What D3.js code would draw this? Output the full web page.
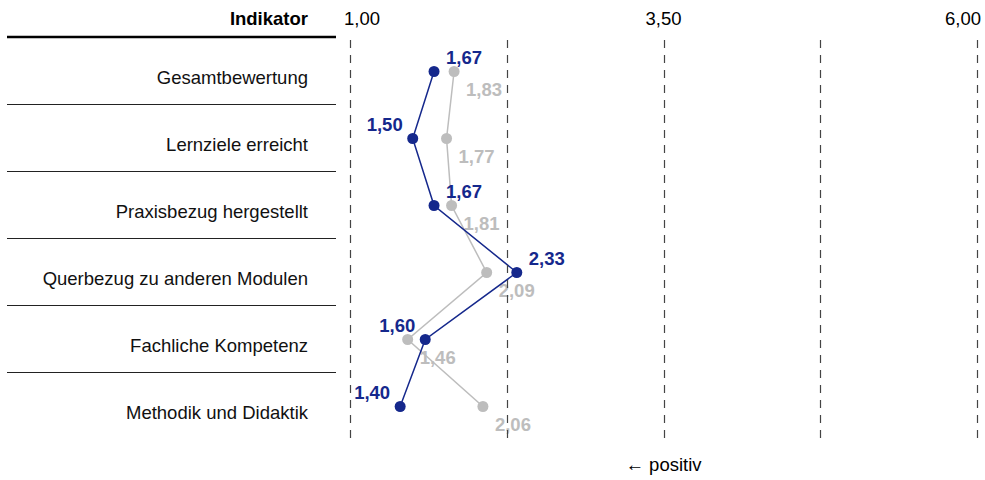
<!DOCTYPE html>
<html lang="de">

<head>
    <meta charset="UTF-8">
    <title>Indikatoren</title>
    <script src="https://d3js.org/d3.v7.min.js"></script>
    <style>
        body { margin: 0; background: #fff; }
        svg { display: block; font-family: "Liberation Sans", Arial, sans-serif; }
    </style>
</head>

<body>
    <svg></svg>
    <script>

        const indicators = [
            "Gesamtbewertung",
            "Lernziele erreicht",
            "Praxisbezug hergestellt",
            "Querbezug zu anderen Modulen",
            "Fachliche Kompetenz",
            "Methodik und Didaktik"
        ];
        const current = [1.67, 1.50, 1.67, 2.33, 1.60, 1.40];
        const reference = [1.83, 1.77, 1.81, 2.09, 1.46, 2.06];
        // which side the blue value label sits on
        const currentLabelSide = ["right", "left", "right", "right", "left", "left"];
        const gridValues = [1, 2.25, 3.5, 4.75, 6];
        const tickValues = [1, 3.5, 6];

        const width = 985, height = 480;
        const blue = "#15288c", grey = "#bdbdbd";
        const fs = "18.5px";
        const fmt = v => d3.format(".2f")(v).replace(".", ",");

        const svg = d3.select("svg")
            .attr("width", width)
            .attr("height", height);

        const x = d3.scaleLinear().domain([1, 6]).range([350, 977]);
        const y = d3.scaleBand().domain(indicators).range([38, 440]);
        const cy = d => y(d) + y.bandwidth() / 2;

        // header
        svg.append("text")
            .attr("x", 308).attr("y", 25)
            .attr("text-anchor", "end")
            .style("font-size", fs).style("font-weight", "bold")
            .text("Indikator");

        svg.append("g")
            .selectAll("text")
            .data(tickValues)
            .join("text")
            .attr("x", (d, i) => x(d) + (i === 0 ? -6 : i === tickValues.length - 1 ? 4 : 0))
            .attr("y", 25)
            .attr("text-anchor", (d, i) => i === 0 ? "start" : i === tickValues.length - 1 ? "end" : "middle")
            .style("font-size", fs)
            .text(fmt);

        // row separators + labels
        svg.append("line")
            .attr("x1", 7).attr("x2", 336)
            .attr("y1", 37).attr("y2", 37)
            .attr("stroke", "#000").attr("stroke-width", 2.5);

        svg.append("g")
            .selectAll("line")
            .data(indicators.slice(1))
            .join("line")
            .attr("x1", 7).attr("x2", 336)
            .attr("y1", d => Math.round(y(d)) - 0.5)
            .attr("y2", d => Math.round(y(d)) - 0.5)
            .attr("stroke", "#222").attr("stroke-width", 1);

        svg.append("g")
            .selectAll("text")
            .data(indicators)
            .join("text")
            .attr("x", 308)
            .attr("y", d => cy(d) + 12)
            .attr("text-anchor", "end")
            .style("font-size", fs)
            .attr("fill", "#111")
            .text(d => d);

        // series
        const line = d3.line()
            .x(d => x(d.v))
            .y(d => cy(d.k));

        const series = [
            { name: "reference", values: reference, color: grey },
            { name: "current", values: current, color: blue }
        ];

        series.forEach(s => {
            const pts = s.values.map((v, i) => ({ v: v, k: indicators[i], i: i }));
            const g = svg.append("g");

            g.append("path")
                .datum(pts)
                .attr("d", line)
                .attr("fill", "none")
                .attr("stroke", s.color)
                .attr("stroke-width", 1.5);

            g.selectAll("circle")
                .data(pts)
                .join("circle")
                .attr("cx", d => x(d.v))
                .attr("cy", d => cy(d.k))
                .attr("r", 5.5)
                .attr("fill", s.color);

            g.selectAll("text")
                .data(pts)
                .join("text")
                .style("font-size", fs)
                .style("font-weight", "bold")
                .attr("fill", s.color)
                .attr("x", d => {
                    if (s.name === "reference") return x(d.v) + 12;
                    return currentLabelSide[d.i] === "right" ? x(d.v) + 12 : x(d.v) - 10;
                })
                .attr("y", d => s.name === "reference" ? cy(d.k) + 24 : cy(d.k) - 8)
                .attr("text-anchor", d => (s.name === "current" && currentLabelSide[d.i] === "left") ? "end" : "start")
                .text(d => fmt(d.v));
        });

        // dashed grid on top
        svg.append("g")
            .selectAll("line")
            .data(gridValues)
            .join("line")
            .attr("x1", d => Math.round(x(d)) + 0.5)
            .attr("x2", d => Math.round(x(d)) + 0.5)
            .attr("y1", 40).attr("y2", 440)
            .attr("stroke", "#444")
            .attr("stroke-width", 1.2)
            .attr("stroke-dasharray", "8,7");

        svg.append("text")
            .attr("x", (x(1) + x(6)) / 2)
            .attr("y", 471)
            .attr("text-anchor", "middle")
            .style("font-size", fs)
            .text("\u2190 positiv");

    </script>
</body>

</html>
